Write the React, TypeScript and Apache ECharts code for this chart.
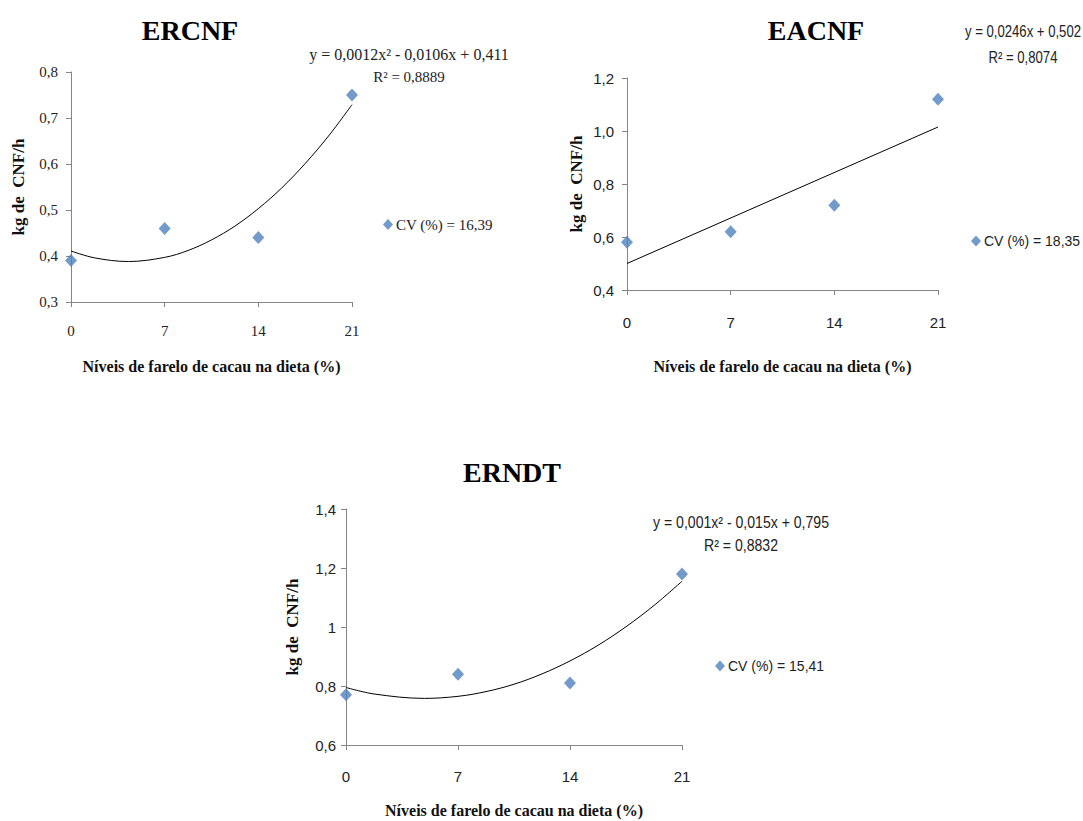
import React, { useEffect, useRef } from "react";
import * as echarts from "echarts";

// ---------- data ----------
const X_VALUES = [0, 7, 14, 21];
const X_TICKS = ["0", "7", "14", "21"];

const ERCNF_VALUES = [0.39, 0.46, 0.44, 0.75];
const ERCNF_TREND_X = [0, 1.75, 4.3, 7, 8.75, 10.5, 12.25, 14, 15.75, 17.5, 19.25, 21];
const ERCNF_TREND = [0.411, 0.396, 0.388, 0.397, 0.412, 0.435, 0.465, 0.503, 0.548, 0.601, 0.661, 0.729];
const ERCNF_Y_TICKS = ["0,3", "0,4", "0,5", "0,6", "0,7", "0,8"];

const EACNF_VALUES = [0.58, 0.62, 0.72, 1.12];
const EACNF_TREND_X = [0, 21];
const EACNF_TREND = [0.5, 1.015];
const EACNF_Y_TICKS = ["0,4", "0,6", "0,8", "1,0", "1,2"];

const ERNDT_VALUES = [0.77, 0.84, 0.81, 1.18];
const ERNDT_TREND_X = [0, 1.75, 4.9, 7, 8.75, 10.5, 12.25, 14, 15.75, 17.5, 19.25, 21];
const ERNDT_TREND = [0.795, 0.773, 0.758, 0.765, 0.781, 0.806, 0.841, 0.885, 0.938, 1.001, 1.073, 1.155];
const ERNDT_Y_TICKS = ["0,6", "0,8", "1", "1,2", "1,4"];

const TITLES = ["ERCNF", "EACNF", "ERNDT"];
const LEGEND_NAMES = ["CV (%) = 16,39", "CV (%) = 18,35", "CV (%) = 15,41"];
const EQUATIONS = [
  "y = 0,0012x² - 0,0106x + 0,411",
  "y = 0,0246x + 0,502",
  "y = 0,001x² - 0,015x + 0,795",
];
const R2_TEXTS = ["R² = 0,8889", "R² = 0,8074", "R² = 0,8832"];
const X_NAME = "Níveis de farelo de cacau na dieta (%)";
const Y_NAME = "kg de  CNF/h";

// ---------- styles ----------
const SERIF = "'Liberation Serif', 'Times New Roman', serif";
const SANS = "'Liberation Sans', Arial, sans-serif";
const BLUE = "#4F81BD";
const AXIS_GRAY = "#868686";

type PanelCfg = {
  grid: { left: number; top: number; width: number; height: number };
  yMin: number;
  yMax: number;
  yInterval: number;
  yTicks: string[];
  tickFont: string;
  tickSize: number;
  yLabelMargin: number;
  xLabelMargin: number;
  yNameGap: number;
  xNameGap: number;
  values: number[];
  trendX: number[];
  trend: number[];
  legendName: string;
  legendPos: [number, number];
  legendFont: string;
  legendSize: number;
};

const PANELS: PanelCfg[] = [
  {
    grid: { left: 71, top: 72, width: 281, height: 230 },
    yMin: 0.3, yMax: 0.8, yInterval: 0.1, yTicks: ERCNF_Y_TICKS,
    tickFont: SERIF, tickSize: 15, yLabelMargin: 13, xLabelMargin: 21,
    yNameGap: 44, xNameGap: 56,
    values: ERCNF_VALUES, trendX: ERCNF_TREND_X, trend: ERCNF_TREND,
    legendName: LEGEND_NAMES[0], legendPos: [388, 225], legendFont: SERIF, legendSize: 15,
  },
  {
    grid: { left: 627, top: 78, width: 311, height: 212 },
    yMin: 0.4, yMax: 1.2, yInterval: 0.2, yTicks: EACNF_Y_TICKS,
    tickFont: SANS, tickSize: 15, yLabelMargin: 13, xLabelMargin: 25,
    yNameGap: 42, xNameGap: 68,
    values: EACNF_VALUES, trendX: EACNF_TREND_X, trend: EACNF_TREND,
    legendName: LEGEND_NAMES[1], legendPos: [976, 242], legendFont: SANS, legendSize: 14,
  },
  {
    grid: { left: 346, top: 509, width: 336, height: 236 },
    yMin: 0.6, yMax: 1.4, yInterval: 0.2, yTicks: ERNDT_Y_TICKS,
    tickFont: SANS, tickSize: 15, yLabelMargin: 10, xLabelMargin: 24,
    yNameGap: 45, xNameGap: 57,
    values: ERNDT_VALUES, trendX: ERNDT_TREND_X, trend: ERNDT_TREND,
    legendName: LEGEND_NAMES[2], legendPos: [720, 667], legendFont: SANS, legendSize: 14,
  },
];

const TITLE_POS: [number, number][] = [
  [190, 30],
  [816, 30],
  [512, 472],
];
const EQ_POS: { x: number; y: number; ry: number; font: string; size: number; rsize: number; sx: number }[] = [
  { x: 409, y: 54, ry: 77, font: SERIF, size: 16, rsize: 15, sx: 1 },
  { x: 1023, y: 32, ry: 58, font: SANS, size: 16, rsize: 16, sx: 0.82 },
  { x: 741, y: 522, ry: 545, font: SANS, size: 16, rsize: 16, sx: 0.88 },
];

export default function App() {
  const ref = useRef<HTMLDivElement>(null);

  useEffect(() => {
    if (!ref.current) return;
    const chart = echarts.init(ref.current, undefined, { renderer: "svg" });

    const grids = PANELS.map((p) => ({ ...p.grid, containLabel: false }));

    const xAxes = PANELS.map((p, i) => ({
      type: "value",
      gridIndex: i,
      min: 0,
      max: 21,
      interval: 7,
      name: X_NAME,
      nameLocation: "middle",
      nameGap: p.xNameGap,
      nameTextStyle: { fontFamily: SERIF, fontWeight: "bold", fontSize: 16, color: "#111" },
      axisLine: { show: true, lineStyle: { color: AXIS_GRAY, width: 1 } },
      axisTick: { show: true, length: 5, lineStyle: { color: AXIS_GRAY } },
      splitLine: { show: false },
      axisLabel: {
        margin: p.xLabelMargin,
        fontFamily: p.tickFont,
        fontSize: p.tickSize,
        color: "#222",
        formatter: (v: number) => X_TICKS[Math.round(v / 7)] ?? "",
      },
    }));

    const yAxes = PANELS.map((p, i) => ({
      type: "value",
      gridIndex: i,
      min: p.yMin,
      max: p.yMax,
      interval: p.yInterval,
      name: Y_NAME,
      nameLocation: "middle",
      nameGap: p.yNameGap,
      nameTextStyle: { fontFamily: SERIF, fontWeight: "bold", fontSize: 17, color: "#111" },
      axisLine: { show: true, lineStyle: { color: AXIS_GRAY, width: 1 } },
      axisTick: { show: true, length: 5, lineStyle: { color: AXIS_GRAY } },
      splitLine: { show: false },
      axisLabel: {
        margin: p.yLabelMargin,
        fontFamily: p.tickFont,
        fontSize: p.tickSize,
        color: "#222",
        formatter: (v: number) => p.yTicks[Math.round((v - p.yMin) / p.yInterval)] ?? "",
      },
    }));

    const series: any[] = [];
    PANELS.forEach((p, i) => {
      series.push({
        type: "line",
        name: "Tendência " + TITLES[i],
        xAxisIndex: i,
        yAxisIndex: i,
        data: p.trendX.map((x, k) => [x, p.trend[k]]),
        smooth: p.trend.length > 2 ? 0.35 : false,
        showSymbol: false,
        symbol: "none",
        lineStyle: { color: "#000", width: 1 },
        z: 2,
        silent: true,
      });
      series.push({
        type: "scatter",
        name: p.legendName,
        xAxisIndex: i,
        yAxisIndex: i,
        data: X_VALUES.map((x, k) => [x, p.values[k]]),
        symbol: "diamond",
        symbolSize: [12, 13],
        itemStyle: { color: BLUE },
        z: 3,
      });
    });

    const legends = PANELS.map((p) => ({
      data: [p.legendName],
      left: p.legendPos[0] - 5,
      top: p.legendPos[1] - 8,
      padding: 0,
      icon: "diamond",
      itemWidth: 10,
      itemHeight: 11,
      selectedMode: false,
      textStyle: { fontFamily: p.legendFont, fontSize: p.legendSize, color: "#222", padding: [0, 0, 0, -2] },
    }));

    const graphics: any[] = [];
    TITLES.forEach((t, i) => {
      graphics.push({
        type: "text",
        x: TITLE_POS[i][0],
        y: TITLE_POS[i][1],
        style: {
          text: t,
          fontFamily: SERIF,
          fontWeight: "bold",
          fontSize: 28,
          fill: "#000",
          textAlign: "center",
          textVerticalAlign: "middle",
        },
      });
      const e = EQ_POS[i];
      graphics.push({
        type: "text",
        x: e.x,
        y: e.y,
        scaleX: e.sx,
        style: {
          text: EQUATIONS[i],
          fontFamily: e.font,
          fontSize: e.size,
          fill: "#222",
          textAlign: "center",
          textVerticalAlign: "middle",
        },
      });
      graphics.push({
        type: "text",
        x: e.x,
        y: e.ry,
        scaleX: e.sx,
        style: {
          text: R2_TEXTS[i],
          fontFamily: e.font,
          fontSize: e.rsize,
          fill: "#222",
          textAlign: "center",
          textVerticalAlign: "middle",
        },
      });
    });

    chart.setOption({
      animation: false,
      backgroundColor: "#ffffff",
      grid: grids,
      xAxis: xAxes,
      yAxis: yAxes,
      legend: legends,
      series,
      graphic: graphics,
    });

    return () => chart.dispose();
  }, []);

  return (
    <div
      ref={ref}
      style={{ position: "absolute", left: 0, top: 0, width: 1083, height: 821, background: "#fff" }}
    />
  );
}
